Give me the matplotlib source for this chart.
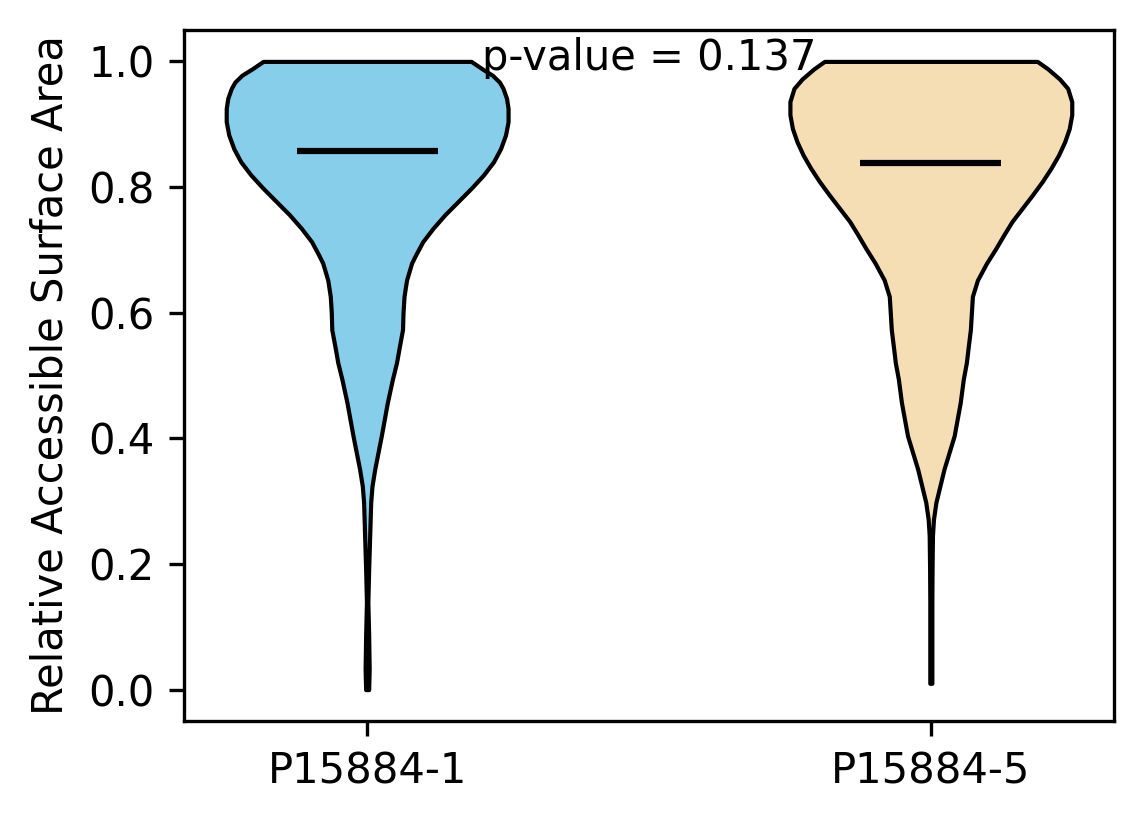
import numpy as np
import matplotlib
matplotlib.use("Agg")
import matplotlib.pyplot as plt

# group names and medians
labels = ["P15884-1", "P15884-5"]
medians = [0.858, 0.839]
p_value = 0.137
colors = ["skyblue", "wheat"]

# density profiles (relative half-widths)
rsa_1 = [0.000, 0.033, 0.086, 0.139, 0.192, 0.245, 0.298, 0.324, 0.351, 0.404,
         0.457, 0.494, 0.520, 0.547, 0.573, 0.600, 0.626, 0.652, 0.679, 0.692,
         0.713, 0.734, 0.756, 0.777, 0.798, 0.819, 0.840, 0.861, 0.883, 0.904,
         0.925, 0.941, 0.957, 0.967, 0.978, 0.988, 1.000]
dens_1 = [1.5, 2.0, 1.5, 0.7, 1.5, 2.5, 3.5, 4.8, 7.5, 14,
          20, 25, 29, 32, 35, 35.5, 36.5, 39, 44, 48,
          55, 65, 77, 90, 103, 115, 125, 132, 137, 139.5,
          139.5, 138, 134.5, 131, 124, 114, 103]

rsa_5 = [0.010, 0.033, 0.086, 0.139, 0.192, 0.245, 0.271, 0.298, 0.351, 0.404,
         0.457, 0.494, 0.520, 0.547, 0.573, 0.600, 0.626, 0.652, 0.679, 0.702,
         0.724, 0.745, 0.766, 0.787, 0.809, 0.830, 0.851, 0.872, 0.893, 0.915,
         0.936, 0.957, 0.972, 0.988, 1.000]
dens_5 = [1.0, 1.0, 1.0, 1.0, 1.2, 1.6, 2.6, 5, 13, 23,
          29, 32, 35, 37, 39, 40, 41, 46, 55, 64,
          72, 80, 90, 100, 110, 118.5, 126, 132, 136.5, 139,
          139, 135, 127, 115.5, 105]


def make_stats(coords, vals, median):
    coords = np.array(coords)
    return {"coords": coords, "vals": np.array(vals, dtype=float),
            "mean": median, "median": median,
            "min": coords.min(), "max": coords.max()}


vpstats = [make_stats(rsa_1, dens_1, medians[0]),
           make_stats(rsa_5, dens_5, medians[1])]

fig, ax = plt.subplots(figsize=(1144 / 300, 824 / 300), dpi=300)
fig.subplots_adjust(left=0.1608, right=0.9738, bottom=0.125, top=0.9636)

parts = ax.violin(vpstats, positions=[1, 2], widths=0.5,
                  showmeans=False, showextrema=False, showmedians=True)
for body, c in zip(parts["bodies"], colors):
    body.set_facecolor(c)
    body.set_edgecolor("black")
    body.set_alpha(1)
parts["cmedians"].set_color("black")

ax.set_xticks([1, 2])
ax.set_xticklabels(labels)
ax.set_ylabel("Relative Accessible Surface Area")
ax.text(1.5, 1.005, f"p-value = {p_value}", ha="center", va="center")

fig.savefig("out.png", dpi=300)
